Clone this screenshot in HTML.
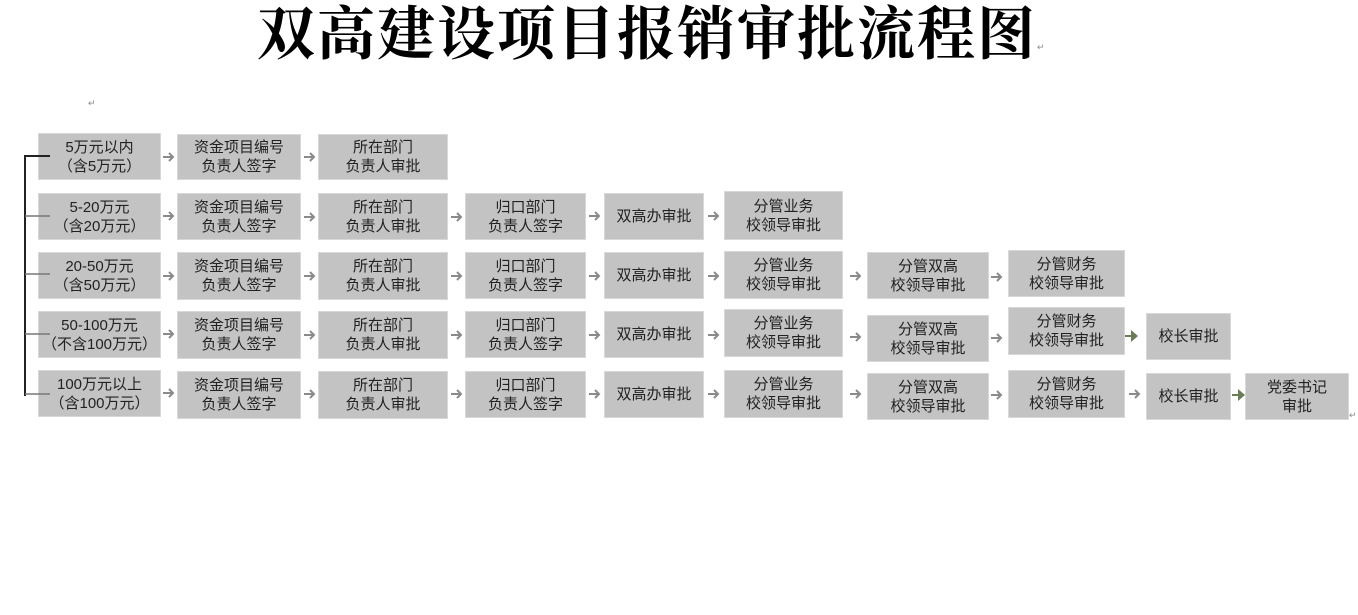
<!DOCTYPE html>
<html><head><meta charset="utf-8"><style>
body{margin:0;width:1358px;height:615px;background:#fff;position:relative;overflow:hidden;font-family:"Liberation Sans","Noto Sans CJK SC",sans-serif}
.t{position:absolute;left:0;width:1294px;top:0;text-align:center;font-family:"Liberation Serif","Noto Serif CJK SC",serif;font-weight:700;font-size:58px;line-height:70px;color:#000;letter-spacing:2px}
.b{position:absolute;background:#c3c3c3;border:1px solid #d8d8d8;box-sizing:border-box;display:flex;align-items:center;justify-content:center;text-align:center;font-size:15px;line-height:19px;color:#222}
svg{position:absolute;left:0;top:0}
.m{position:absolute;font-size:9px;color:#888}
</style></head><body>
<div class="t">双高建设项目报销审批流程图</div>
<div class="m" style="left:1037px;top:42px">↵</div>
<div class="m" style="left:88px;top:98px">↵</div>
<div class="m" style="left:1349px;top:410px">↵</div>

<div class="b" style="left:38px;top:133px;width:123px;height:47px">5万元以内<br>（含5万元）</div>
<div class="b" style="left:177px;top:134px;width:124px;height:46px">资金项目编号<br>负责人签字</div>
<div class="b" style="left:318px;top:134px;width:130px;height:46px">所在部门<br>负责人审批</div>

<div class="b" style="left:38px;top:193px;width:123px;height:47px">5-20万元<br>（含20万元）</div>
<div class="b" style="left:177px;top:193px;width:124px;height:47px">资金项目编号<br>负责人签字</div>
<div class="b" style="left:318px;top:193px;width:130px;height:47px">所在部门<br>负责人审批</div>
<div class="b" style="left:465px;top:193px;width:121px;height:47px">归口部门<br>负责人签字</div>
<div class="b" style="left:604px;top:193px;width:100px;height:47px">双高办审批</div>
<div class="b" style="left:724px;top:191px;width:119px;height:49px">分管业务<br>校领导审批</div>

<div class="b" style="left:38px;top:252px;width:123px;height:47px">20-50万元<br>（含50万元）</div>
<div class="b" style="left:177px;top:252px;width:124px;height:48px">资金项目编号<br>负责人签字</div>
<div class="b" style="left:318px;top:252px;width:130px;height:48px">所在部门<br>负责人审批</div>
<div class="b" style="left:465px;top:252px;width:121px;height:47px">归口部门<br>负责人签字</div>
<div class="b" style="left:604px;top:252px;width:100px;height:47px">双高办审批</div>
<div class="b" style="left:724px;top:251px;width:119px;height:48px">分管业务<br>校领导审批</div>
<div class="b" style="left:867px;top:252px;width:122px;height:47px">分管双高<br>校领导审批</div>
<div class="b" style="left:1008px;top:250px;width:117px;height:47px">分管财务<br>校领导审批</div>

<div class="b" style="left:38px;top:311px;width:123px;height:47px">50-100万元<br>（不含100万元）</div>
<div class="b" style="left:177px;top:311px;width:124px;height:48px">资金项目编号<br>负责人签字</div>
<div class="b" style="left:318px;top:311px;width:130px;height:48px">所在部门<br>负责人审批</div>
<div class="b" style="left:465px;top:311px;width:121px;height:47px">归口部门<br>负责人签字</div>
<div class="b" style="left:604px;top:311px;width:100px;height:47px">双高办审批</div>
<div class="b" style="left:724px;top:309px;width:119px;height:48px">分管业务<br>校领导审批</div>
<div class="b" style="left:867px;top:315px;width:122px;height:47px">分管双高<br>校领导审批</div>
<div class="b" style="left:1008px;top:307px;width:117px;height:48px">分管财务<br>校领导审批</div>
<div class="b" style="left:1146px;top:313px;width:85px;height:47px">校长审批</div>

<div class="b" style="left:38px;top:370px;width:123px;height:47px">100万元以上<br>（含100万元）</div>
<div class="b" style="left:177px;top:371px;width:124px;height:48px">资金项目编号<br>负责人签字</div>
<div class="b" style="left:318px;top:371px;width:130px;height:48px">所在部门<br>负责人审批</div>
<div class="b" style="left:465px;top:371px;width:121px;height:47px">归口部门<br>负责人签字</div>
<div class="b" style="left:604px;top:371px;width:100px;height:47px">双高办审批</div>
<div class="b" style="left:724px;top:370px;width:119px;height:48px">分管业务<br>校领导审批</div>
<div class="b" style="left:867px;top:373px;width:122px;height:47px">分管双高<br>校领导审批</div>
<div class="b" style="left:1008px;top:370px;width:117px;height:48px">分管财务<br>校领导审批</div>
<div class="b" style="left:1146px;top:373px;width:85px;height:47px">校长审批</div>
<div class="b" style="left:1245px;top:373px;width:104px;height:47px">党委书记<br>审批</div>

<svg width="1358" height="615">
<g stroke="#222" stroke-width="2" fill="none">
<line x1="25" y1="156" x2="25" y2="396"/>
<line x1="24" y1="156" x2="50" y2="156"/>
</g>
<g stroke="#777" stroke-width="1.5">
<line x1="25" y1="216" x2="50" y2="216"/>
<line x1="25" y1="274" x2="50" y2="274"/>
<line x1="25" y1="334" x2="50" y2="334"/>
<line x1="25" y1="394" x2="50" y2="394"/>
</g>
<g stroke="#8a8a8a" stroke-width="2" fill="none">
<path d="M163 157h10M169 153l4 4-4 4"/><path d="M304 157h10M310 153l4 4-4 4"/>
<path d="M163 216h10M169 212l4 4-4 4"/><path d="M304 217h10M310 213l4 4-4 4"/><path d="M451 217h10M457 213l4 4-4 4"/><path d="M589 216h10M595 212l4 4-4 4"/><path d="M708 216h10M714 212l4 4-4 4"/>
<path d="M163 276h10M169 272l4 4-4 4"/><path d="M304 276h10M310 272l4 4-4 4"/><path d="M451 276h10M457 272l4 4-4 4"/><path d="M589 276h10M595 272l4 4-4 4"/><path d="M708 276h10M714 272l4 4-4 4"/><path d="M850 276h10M856 272l4 4-4 4"/><path d="M991 277h10M997 273l4 4-4 4"/>
<path d="M163 334h10M169 330l4 4-4 4"/><path d="M304 335h10M310 331l4 4-4 4"/><path d="M451 335h10M457 331l4 4-4 4"/><path d="M589 335h10M595 331l4 4-4 4"/><path d="M708 335h10M714 331l4 4-4 4"/><path d="M850 337h10M856 333l4 4-4 4"/><path d="M991 338h10M997 334l4 4-4 4"/>
<path d="M163 393h10M169 389l4 4-4 4"/><path d="M304 394h10M310 390l4 4-4 4"/><path d="M451 394h10M457 390l4 4-4 4"/><path d="M589 394h10M595 390l4 4-4 4"/><path d="M708 394h10M714 390l4 4-4 4"/><path d="M850 394h10M856 390l4 4-4 4"/><path d="M991 395h10M997 391l4 4-4 4"/><path d="M1129 394h10M1135 390l4 4-4 4"/>
</g>
<g fill="#6a7d55">
<path d="M1125 335h6v-5l7 6-7 6v-5h-6z"/>
<path d="M1232 394h6v-5l7 6-7 6v-5h-6z"/>
</g>
</svg>
</body></html>
